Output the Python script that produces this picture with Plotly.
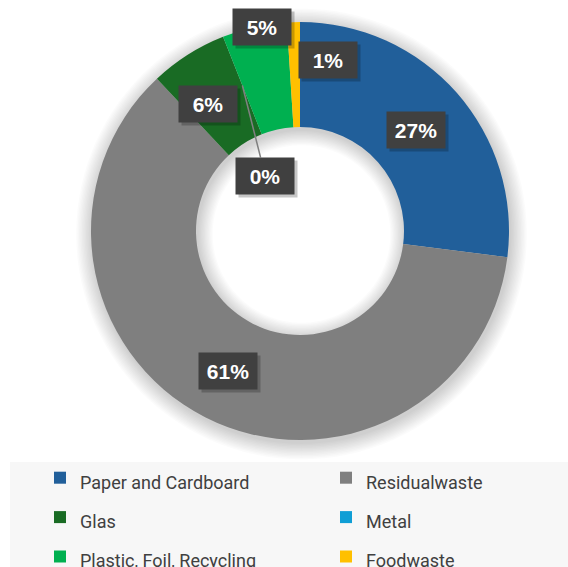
import math
import plotly.graph_objects as go

# ---- data -------------------------------------------------------------
categories = ["Paper and Cardboard", "Residualwaste", "Glas", "Metal",
              "Plastic, Foil, Recycling", "Foodwaste"]
shares = [27, 61, 6, 0, 5, 1]          # percent of total waste
slice_colors = ["#215F9A", "#7F7F7F", "#196B24", "#0F9ED5", "#00B050", "#FFC000"]

# ---- geometry (pixels) -------------------------------------------------
W, H = 568, 567
CX, CY = 300, 231          # ring centre
R_OUT, R_IN = 209, 104     # outer / inner radius
R_LBL = (R_OUT + R_IN) / 2

# label nudges in screen pixels (dx right, dy down) relative to the ring middle
nudge = {
    "Paper and Cardboard": (-1, 2),
    "Residualwaste": (-1, 1),
    "Glas": (-8, 5),
    "Plastic, Foil, Recycling": (-4, -51),
    "Foodwaste": (33, -15),
}
leader_offset = {"Metal": (23, 91)}  # label box offset from its slice for leader-line labels


def px_to_paper(x, y):
    return x / W, 1 - y / H


def ring_path(cx, cy, r_out, r_in, n=120):
    """Closed SVG path (paper coords) of an annulus: outer loop one way, inner loop reversed."""
    def loop(r, rev):
        pts = []
        for k in range(n):
            a = 2 * math.pi * k / n * (-1 if rev else 1)
            x, y = px_to_paper(cx + r * math.cos(a), cy + r * math.sin(a))
            pts.append(f"{x:.5f},{y:.5f}")
        return "M" + " L".join(pts) + " Z"
    return loop(r_out, False) + " " + loop(r_in, True)


fig = go.Figure()

fig.add_trace(go.Pie(
    labels=[f"<span style='font-size:18px'>{c}</span>" for c in categories],
    values=shares,
    marker=dict(colors=slice_colors, line=dict(width=0)),
    hole=R_IN / R_OUT,
    sort=False,
    direction="clockwise",
    rotation=0,
    textinfo="none",
    hoverinfo="label+percent",
    domain=dict(x=[(CX - R_OUT) / W, (CX + R_OUT) / W],
                y=[1 - (CY + R_OUT) / H, 1 - (CY - R_OUT) / H]),
    showlegend=True,
))

# ---- soft drop shadow of the ring ----------------------------------------
shapes = []
for i in range(12):
    shapes.append(dict(type="path", xref="paper", yref="paper", layer="below",
                       path=ring_path(CX + 1.5, CY + 3, R_OUT + 1 + i * 1.4, R_IN - 1 - i * 1.3),
                       fillcolor="rgba(0,0,0,0.014)", line=dict(width=0)))

# legend panel
lx0, ly0 = px_to_paper(10, 462)
shapes.append(dict(type="rect", xref="paper", yref="paper",
                   x0=lx0, x1=1, y0=0, y1=ly0, layer="below",
                   fillcolor="#F7F7F7", line=dict(width=0)))

# ---- percentage labels --------------------------------------------------
annotations = []
total = sum(shares)
cum = 0
box = dict(width=48, height=26, borderpad=5, xanchor="center", yanchor="middle")
lbl_font = dict(family="Liberation Sans, Arial", size=21, color="white")
shadow_bg = "rgba(0,0,0,0.22)"
for cat, v in zip(categories, shares):
    start = cum
    cum += v
    pct = f"<b>{round(100 * v / total)}%</b>"
    if cat in leader_offset:
        # point at the slice position in the middle of the ring, label sits off to the side
        theta = math.radians(360 * start / total)
        px = CX + R_LBL * math.sin(theta)
        py = CY - R_LBL * math.cos(theta)
        ax, ay = leader_offset[cat]
        x, y = px_to_paper(px, py)
        annotations.append(dict(xref="paper", yref="paper", x=x, y=y, text=" ",
                                showarrow=True, ax=ax + 3, ay=ay + 3, arrowcolor="rgba(0,0,0,0)",
                                bgcolor=shadow_bg, font=lbl_font, **box))
        annotations.append(dict(xref="paper", yref="paper", x=x, y=y, text=pct,
                                showarrow=True, arrowhead=0, arrowwidth=1.5,
                                arrowcolor="#808080", ax=ax, ay=ay,
                                bgcolor="#404040", font=lbl_font, **box))
        continue
    theta = math.radians(360 * (start + v / 2) / total)
    dx, dy = nudge.get(cat, (0, 0))
    px = CX + R_LBL * math.sin(theta) + dx
    py = CY - R_LBL * math.cos(theta) + dy
    x, y = px_to_paper(px, py)
    # box shadow first, then the label box on top
    annotations.append(dict(xref="paper", yref="paper", x=x, y=y, text=" ",
                            showarrow=False, xshift=3, yshift=-3,
                            bgcolor=shadow_bg, font=lbl_font, **box))
    annotations.append(dict(xref="paper", yref="paper", x=x, y=y, text=pct,
                            showarrow=False, bgcolor="#404040", font=lbl_font, **box))

fig.update_layout(
    width=W, height=H,
    margin=dict(l=0, r=0, t=0, b=0, autoexpand=False),
    paper_bgcolor="white",
    plot_bgcolor="white",
    shapes=shapes,
    annotations=annotations,
    legend=dict(
        orientation="h",
        entrywidthmode="pixels", entrywidth=241,
        x=px_to_paper(40, 0)[0], xanchor="left",
        y=px_to_paper(0, 453)[1], yanchor="top",
        bgcolor="rgba(0,0,0,0)",
        font=dict(family="Roboto", size=28, color="#404040"),
        traceorder="normal",
    ),
)

fig.write_html("out.html")
